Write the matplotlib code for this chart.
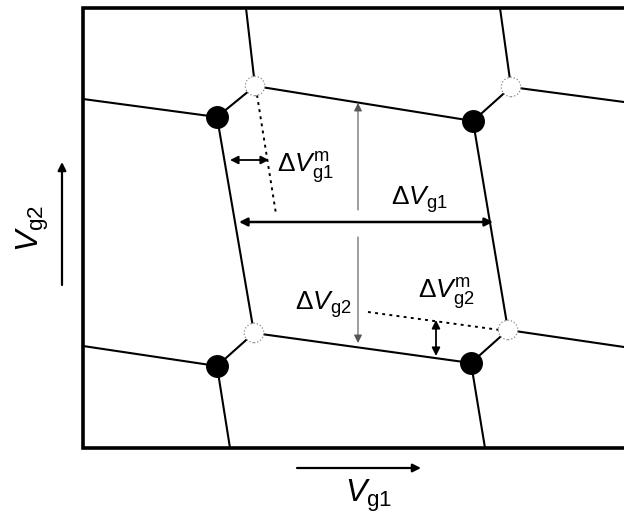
import matplotlib
matplotlib.use('Agg')
import matplotlib.pyplot as plt

plt.rcParams['mathtext.fontset'] = 'custom'
plt.rcParams['mathtext.rm'] = 'Liberation Sans'
plt.rcParams['mathtext.it'] = 'Liberation Sans:italic'
plt.rcParams['mathtext.bf'] = 'Liberation Sans:bold'
plt.rcParams['font.family'] = 'Liberation Sans'

# schematic coordinates (V_g1 to the right, V_g2 upwards, screen units)
frame_x = [624, 83, 83, 624]
frame_y = [8, 8, 448, 448]

# triple points: filled (electron) and open (hole)
filled_x = [217, 473, 217, 471]
filled_y = [117, 121, 366, 363]
open_x = [255, 511, 254, 508]
open_y = [86, 87, 333, 330]

# honeycomb edges: x0, y0, x1, y1
edges = [
    (83, 99, 217, 117),
    (217, 117, 255, 86),
    (255, 86, 246, 8),
    (255, 86, 473, 121),
    (217, 117, 254, 333),
    (473, 121, 511, 87),
    (511, 87, 500, 8),
    (511, 87, 624, 102),
    (473, 121, 508, 330),
    (254, 333, 471, 363),
    (83, 346, 217, 366),
    (217, 366, 254, 333),
    (217, 366, 230, 448),
    (471, 363, 508, 330),
    (471, 363, 485, 448),
    (508, 330, 624, 347),
]

# dotted guide lines
guides = [
    (257, 95, 276, 214),
    (368, 312, 500, 330),
]

# arrows: tail x, tail y, head x, head y, style, width
arrows = [
    (230, 160, 269, 160, '<|-|>', 1.3),
    (239, 222, 493, 222, '<|-|>', 1.8),
    (358, 210, 358, 103, '-|>', 0.8),
    (358, 237, 358, 343, '-|>', 0.8),
    (436, 320, 436, 356, '<|-|>', 1.3),
    (297, 468, 421, 468, '-|>', 1.6),
    (62, 285, 62, 162, '-|>', 1.6),
]

labels = [r'$\Delta V_{\mathrm{g1}}^{\mathrm{m}}$', r'$\Delta V_{\mathrm{g1}}$',
          r'$\Delta V_{\mathrm{g2}}$', r'$\Delta V_{\mathrm{g2}}^{\mathrm{m}}$',
          r'$V_{\mathrm{g1}}$', r'$V_{\mathrm{g2}}$']
label_x = [305, 419, 323, 446, 369, 33]
label_y = [168, 200, 305, 294, 496, 228]
label_size = [19, 19, 19, 19, 23, 23]
label_rot = [0, 0, 0, 0, 0, 90]

fig = plt.figure(figsize=(6.24, 5.23), dpi=100)
ax = fig.add_axes([0, 0, 1, 1])
ax.set_xlim(0, 624)
ax.set_ylim(523, 0)
ax.axis('off')

ax.plot(frame_x, frame_y, color='black', lw=2.6, solid_joinstyle='miter', zorder=4)

for x0, y0, x1, y1 in edges:
    ax.plot([x0, x1], [y0, y1], color='black', lw=1.5, zorder=2)

for x0, y0, x1, y1 in guides:
    ax.plot([x0, x1], [y0, y1], color='black', lw=1.4, ls=(0, (1.5, 2.2)), zorder=2)

for x0, y0, x1, y1, st, w in arrows:
    col = '#555555' if w < 1 else 'black'
    ax.annotate('', xy=(x1, y1), xytext=(x0, y0),
                arrowprops=dict(arrowstyle=st, lw=w, color=col, shrinkA=0, shrinkB=0,
                                mutation_scale=12))

ax.scatter(filled_x, filled_y, s=15.5 ** 2, color='black', zorder=5)
ax.scatter(open_x, open_y, s=14 ** 2, facecolor='white', edgecolors='#888888',
           linewidths=0.9, linestyle=':', zorder=5)

for t, x, y, s, r in zip(labels, label_x, label_y, label_size, label_rot):
    ax.text(x, y, t, fontsize=s, rotation=r, ha='center', va='center', color='black')

fig.savefig('out.png', dpi=100)
